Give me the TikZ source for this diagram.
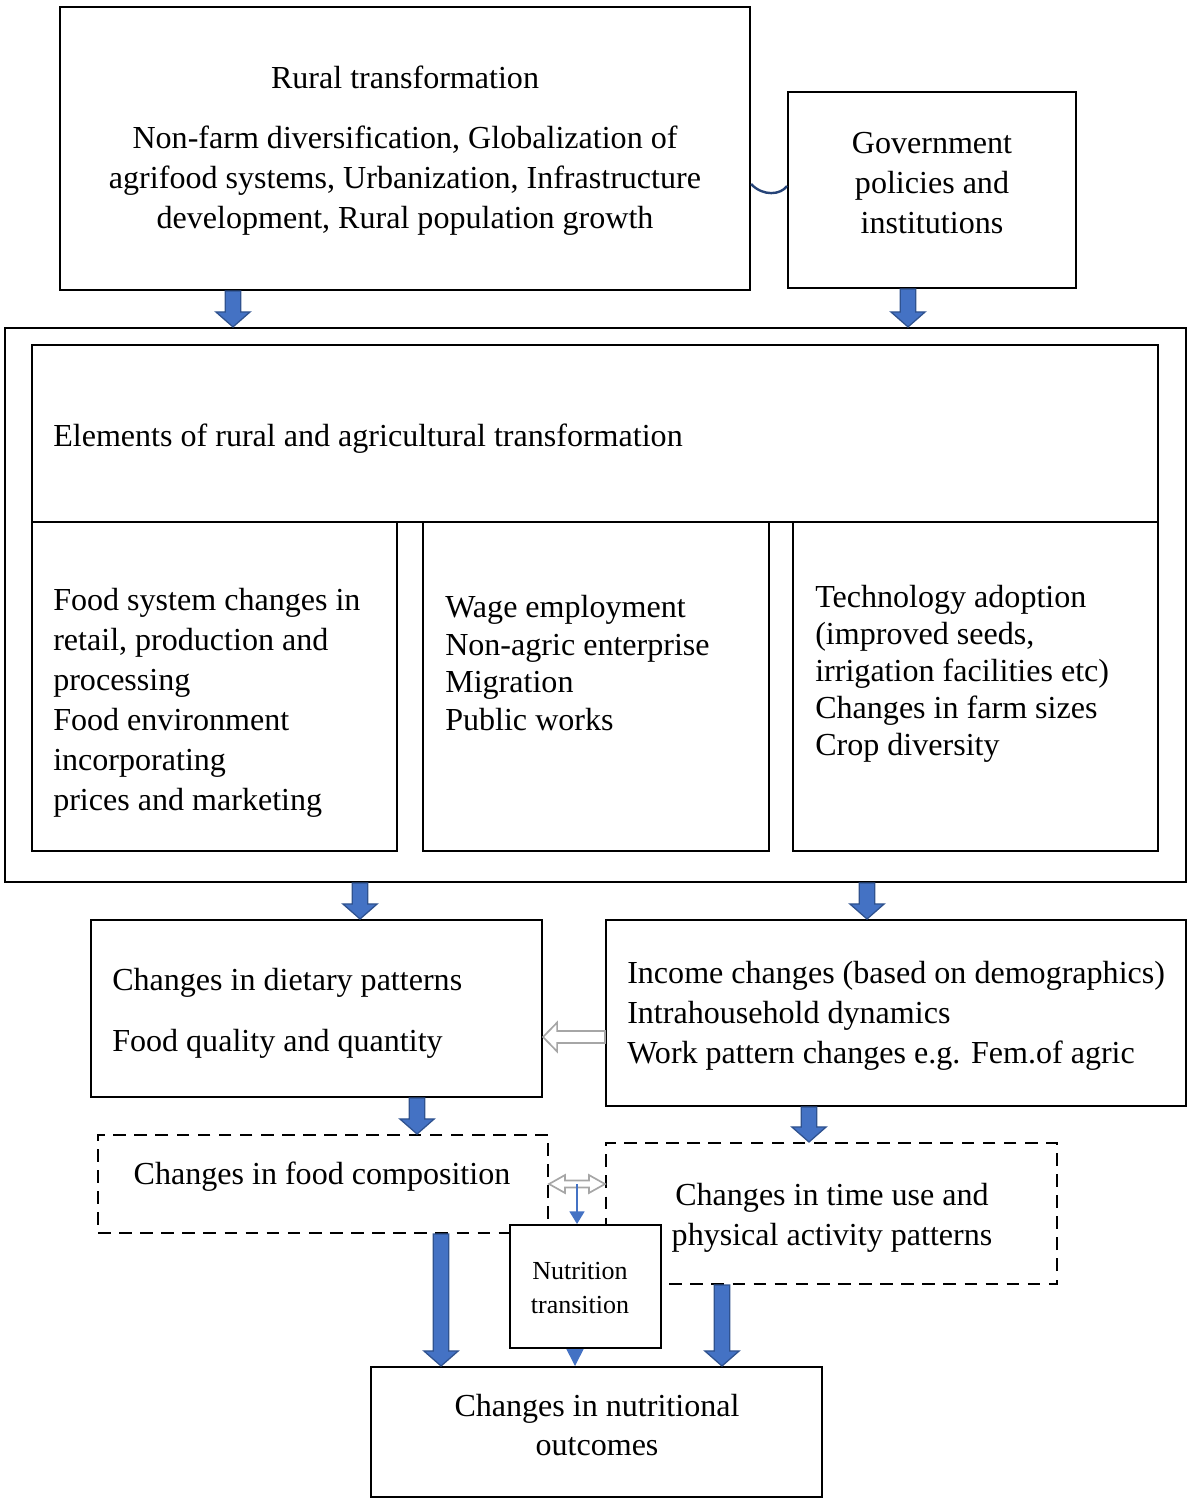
\documentclass[tikz,border=0pt]{standalone}
\usepackage{fontspec}
\setmainfont{Liberation Serif}
\usetikzlibrary{arrows.meta,positioning,calc}
\definecolor{arrowblue}{HTML}{4472C4}
\definecolor{arrowedge}{HTML}{2F528F}
\definecolor{linknavy}{HTML}{264478}
\definecolor{hollowgray}{HTML}{A6A6A6}
\tikzset{
  framebox/.style={
    rectangle,
    draw=black,
    fill=white,
    line width=1.4pt,
    inner sep=0pt
  },
  dashbox/.style={
    framebox,
    dash pattern=on 9pt off 6pt
  },
  boxtext/.style={
    inner sep=0pt,
    align=left,
    yshift=-0.075cm,
    font=\fontsize{22.8}{28.4}\selectfont
  },
  smalltext/.style={
    inner sep=0pt,
    align=center,
    font=\fontsize{18.5}{23.5}\selectfont
  },
  blockarrow/.style={
    fill=arrowblue,
    draw=arrowedge,
    line width=0.9pt,
    line join=miter
  },
  hollowarrow/.style={
    fill=white,
    draw=hollowgray,
    line width=1.2pt,
    line join=miter
  },
  thinarrow/.style={
    draw=arrowblue,
    line width=1.1pt,
    -{Triangle[length=9pt,width=10.7pt]}
  },
  govlink/.style={
    draw=linknavy,
    line width=1.7pt
  }
}
% wide blue arrow pointing down, from #1 to the height of #2
\newcommand{\blockarrow}[2]{%
  \draw[blockarrow] let \p1=(#1), \p2=(#2) in
    (\x1-5.5pt,\y1) -- (\x1-5.5pt,\y2+10.7pt) -- (\x1-12.2pt,\y2+10.7pt) -- (\x1,\y2)
    -- (\x1+12.2pt,\y2+10.7pt) -- (\x1+5.5pt,\y2+10.7pt) -- (\x1+5.5pt,\y1) -- cycle;}

\begin{document}
\begin{tikzpicture}[x=0.025cm,y=-0.025cm]
  \useasboundingbox (0,0) rectangle (1187,1499);

  % top row
  \node[framebox,minimum width=17.25cm,minimum height=7.075cm] (rt) at (405,148.5) {};
  \node[boxtext,align=center] (rttext) at (405,148)
    {Rural transformation\\[14.2pt]Non-farm diversification, Globalization of\\agrifood systems, Urbanization, Infrastructure\\development, Rural population growth};
  \node[framebox,minimum width=7.2cm,minimum height=4.9cm] (gov) at (932,190) {};
  \node[boxtext,align=center] (govtext) at (932,180) {Government\\policies and\\institutions};
  \draw[govlink] ([yshift=-0.8875cm]rt.east) .. controls +(0.3cm,-0.32cm) and +(-0.15cm,-0.22cm) .. ([yshift=0.1cm]gov.west);

  % elements block
  \node[framebox,minimum width=29.525cm,minimum height=13.85cm] (outer) at (595.5,605) {};
  \node[framebox,minimum width=28.15cm,minimum height=4.425cm] (head) at (595,433.5) {};
  \node[boxtext,anchor=west] (headtext) at (53,436) {Elements of rural and agricultural transformation};
  \node[framebox,minimum width=9.125cm,minimum height=8.225cm] (colA) at (214.5,686.5) {};
  \node[framebox,minimum width=8.65cm,minimum height=8.225cm] (colB) at (596,686.5) {};
  \node[framebox,minimum width=9.125cm,minimum height=8.225cm] (colC) at (975.5,686.5) {};
  \node[boxtext,anchor=west] (colAtext) at (53,700)
    {Food system changes in\\retail, production and\\processing\\Food environment\\incorporating\\prices and marketing};
  \node[boxtext,anchor=west,font=\fontsize{22.8}{26.6}\selectfont] (colBtext) at (445,660)
    {Wage employment\\Non-agric enterprise\\Migration\\Public works};
  \node[boxtext,anchor=west,font=\fontsize{22.8}{26.3}\selectfont] (colCtext) at (815,671)
    {Technology adoption\\(improved seeds,\\irrigation facilities etc)\\Changes in farm sizes\\Crop diversity};

  % effects
  \node[framebox,minimum width=11.275cm,minimum height=4.425cm] (diet) at (316.5,1008.5) {};
  \node[boxtext,anchor=west] (diettext) at (112,1010.5)
    {Changes in dietary patterns\\[15pt]Food quality and quantity};
  \node[framebox,minimum width=14.5cm,minimum height=4.65cm] (income) at (896,1013) {};
  \node[boxtext,anchor=west] (incometext) at (627,1013)
    {Income changes (based on demographics)\\Intrahousehold dynamics\\Work pattern changes e.g. Fem.of agric};

  \node[dashbox,minimum width=11.25cm,minimum height=2.45cm] (comp) at (323,1184) {};
  \node[boxtext] (comptext) at (322,1174) {Changes in food composition};
  \node[dashbox,minimum width=11.275cm,minimum height=3.525cm] (timeuse) at (831.5,1213.5) {};
  \node[boxtext,align=center] (timetext) at (832,1215) {Changes in time use and\\physical activity patterns};

  \node[framebox,minimum width=3.775cm,minimum height=3.075cm] (nutr) at (585.5,1286.5) {};
  \node[smalltext] (nutrtext) at (580,1288) {Nutrition\\transition};
  \node[framebox,minimum width=11.275cm,minimum height=3.25cm] (outcome) at (596.5,1432) {};
  \node[boxtext,align=center] (outtext) at (597,1422) {Changes in nutritional\\outcomes};

  % wide arrows
  \coordinate (rtfoot) at ([xshift=4.35cm]rt.south west);
  \coordinate (govfoot) at ([xshift=3.025cm]gov.south west);
  \coordinate (dietin) at ([xshift=6.75cm]diet.north west);
  \coordinate (incomein) at ([xshift=6.55cm]income.north west);
  \coordinate (dietfoot) at ([xshift=8.175cm]diet.south west);
  \coordinate (incomefoot) at ([xshift=5.1cm]income.south west);
  \coordinate (compfoot) at ([xshift=8.6cm]comp.south west);
  \coordinate (timefoot) at ([xshift=2.925cm]timeuse.south west);
  \blockarrow{rtfoot}{rtfoot |- outer.north}
  \blockarrow{govfoot}{govfoot |- outer.north}
  \blockarrow{dietin |- outer.south}{dietin}
  \blockarrow{incomein |- outer.south}{incomein}
  \blockarrow{dietfoot}{dietfoot |- comp.north}
  \blockarrow{incomefoot}{incomefoot |- timeuse.north}
  \blockarrow{compfoot}{compfoot |- outcome.north}
  \blockarrow{timefoot}{timefoot |- outcome.north}

  % hollow arrows
  \coordinate (dietport) at ([yshift=-0.7125cm]diet.east);
  \draw[hollowarrow] let \p1=(dietport -| income.west), \p2=(dietport) in
    (\x1,\y1+4.3pt) -- (\x2+10pt,\y1+4.3pt) -- (\x2+10pt,\y1+10.3pt) -- (\x2,\y1)
    -- (\x2+10pt,\y1-10.3pt) -- (\x2+10pt,\y1-4.3pt) -- (\x1,\y1-4.3pt) -- cycle;
  \coordinate (timeport) at (comp.east -| timeuse.west);
  \draw[hollowarrow] let \p1=(comp.east), \p2=(timeport) in
    (\x1,\y1) -- (\x1+11.4pt,\y1+6.4pt) -- (\x1+11.4pt,\y1+2.5pt) -- (\x2-11.4pt,\y1+2.5pt)
    -- (\x2-11.4pt,\y1+6.4pt) -- (\x2,\y1) -- (\x2-11.4pt,\y1-6.4pt) -- (\x2-11.4pt,\y1-2.5pt)
    -- (\x1+11.4pt,\y1-2.5pt) -- (\x1+11.4pt,\y1-6.4pt) -- cycle;

  % thin arrows into and out of the nutrition transition
  \coordinate (transmid) at ($(comp.east)!0.5!(timeport)$);
  \draw[thinarrow] (transmid) -- (transmid |- nutr.north);
  \coordinate (nutrfoot) at ([xshift=-0.2625cm]nutr.south);
  \draw[thinarrow,-{Triangle[length=12pt,width=12pt]}] (nutrfoot) -- (nutrfoot |- outcome.north);
\end{tikzpicture}
\end{document}
